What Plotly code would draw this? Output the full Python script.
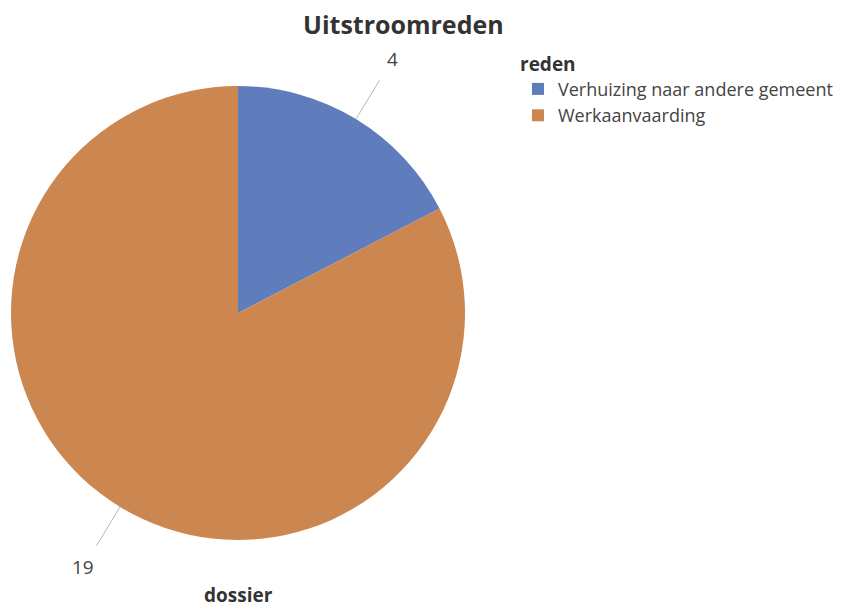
import math
import plotly.graph_objects as go

# ---- data ----
categories = ["Verhuizing naar andere gemeent", "Werkaanvaarding"]
values = [4, 19]
colors = ["#5f7cbd", "#cc8650"]

# ---- layout constants (page pixels) ----
OFF = 8                      # default body margin of the html page
W, H = 853 - OFF, 609 - OFF  # figure size
CX, CY, R = 238, 313, 227


def px2paper(x, y):
    return (x - OFF) / W, 1 - (y - OFF) / H


fig = go.Figure()
(dx0, dy0), (dx1, dy1) = px2paper(CX - R, CY + R), px2paper(CX + R, CY - R)
fig.add_trace(go.Pie(
    labels=categories, values=values, sort=False, direction="clockwise", rotation=0,
    marker=dict(colors=colors, line=dict(width=0)),
    textinfo="none", hoverinfo="label+value",
    domain=dict(x=[dx0, dx1], y=[dy0, dy1]),
))

total = sum(values)
cum = 0
shapes, annotations = [], []
for v in values:
    mid = (cum + v / 2) / total * 2 * math.pi
    cum += v
    dx, dy = math.sin(mid), -math.cos(mid)
    x0, y0 = px2paper(CX + dx * R * 1.0, CY + dy * R * 1.0)
    x1, y1 = px2paper(CX + dx * R * 1.20, CY + dy * R * 1.20)
    shapes.append(dict(type="line", xref="paper", yref="paper", x0=x0, y0=y0, x1=x1, y1=y1,
                       line=dict(color="#b8b8b8", width=1)))
    lx, ly = px2paper(CX + dx * R * 1.31, CY + dy * R * 1.31)
    annotations.append(dict(text=str(v), x=lx, y=ly, xref="paper", yref="paper", showarrow=False,
                            font=dict(size=19, color="#444444"), xanchor="center", yanchor="middle"))

ax, ay = px2paper(CX, 595)
annotations.append(dict(text="<b>dossier</b>", x=ax, y=ay, xref="paper", yref="paper",
                        showarrow=False, font=dict(size=19, color="#333333"),
                        xanchor="center", yanchor="middle"))

tx, ty = px2paper(403, 24)
annotations.append(dict(text="<b>Uitstroomreden</b>", x=tx, y=ty, xref="paper", yref="paper",
                        showarrow=False, xanchor="center", yanchor="middle",
                        font=dict(size=25, color="#333333", family="Open Sans, Roboto, sans-serif")))

lgx, lgy = px2paper(518, 46)
fig.update_layout(
    width=W, height=H,
    margin=dict(l=0, r=0, t=0, b=0),
    paper_bgcolor="white", plot_bgcolor="white",
    font=dict(family="Open Sans, Noto Sans, sans-serif", color="#444444"),
    legend=dict(title=dict(text="<b>reden</b>", font=dict(size=19, color="#333333")),
                x=lgx, y=lgy, xanchor="left", yanchor="top",
                font=dict(size=18, color="#444444"), itemwidth=30, tracegroupgap=0),
    shapes=shapes, annotations=annotations,
)

fig.write_html("out.html")
